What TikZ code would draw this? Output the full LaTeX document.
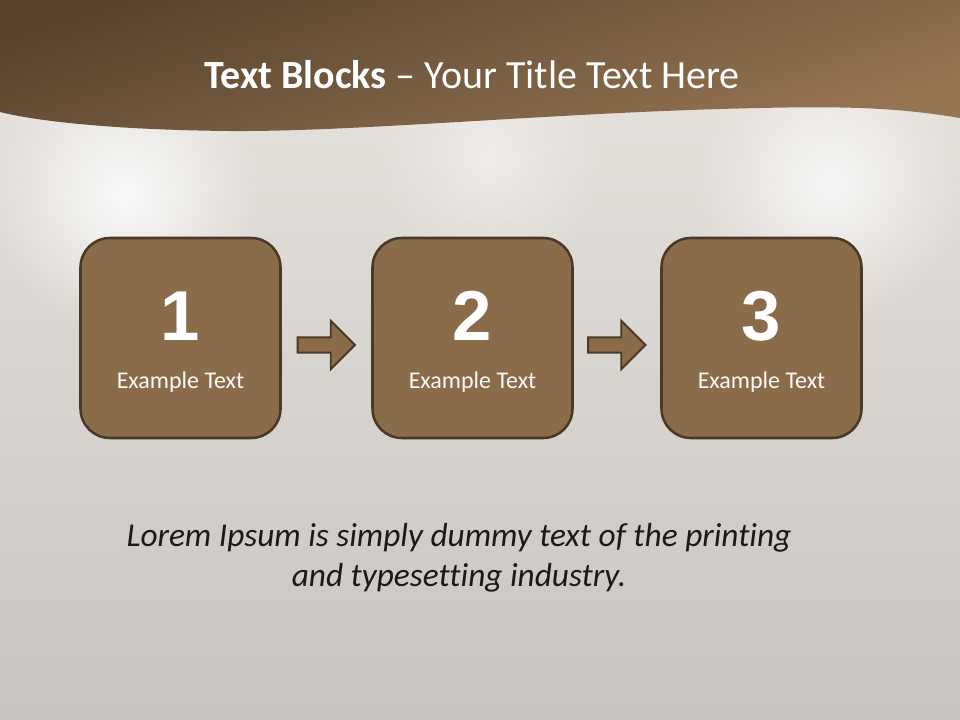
\documentclass[tikz,border=0pt]{standalone}
\usepackage{fontspec}
\setmainfont{Carlito}[Ligatures=NoCommon]
\newfontfamily\numfont{Liberation Sans}
\usetikzlibrary{calc,shapes.arrows,fadings}
\definecolor{bandDark}{RGB}{88,68,46}
\definecolor{bandLight}{RGB}{150,117,82}
\definecolor{bgTop}{RGB}{232,228,222}
\definecolor{bgBottom}{RGB}{200,197,194}
\definecolor{blockFill}{RGB}{138,108,74}
\definecolor{blockLine}{RGB}{74,57,38}
\definecolor{bodyText}{RGB}{28,26,24}
\tikzfading[name=glowfade, inner color=transparent!0, outer color=transparent!100]
\begin{document}
\begin{tikzpicture}[x=0.75pt, y=-0.75pt,
    block/.style={draw=blockLine, line width=1.9pt, fill=blockFill, rounded corners=22pt,
      minimum width=150pt, minimum height=150pt},
    blockarrow/.style={single arrow, draw=blockLine, line width=1.4pt, fill=blockFill,
      minimum height=43pt, single arrow head extend=12.5pt, inner xsep=0pt, inner ysep=5pt},
    numtext/.style={font=\numfont\bfseries\fontsize{53}{53}\selectfont, text=white, inner sep=0pt},
    labeltext/.style={font=\fontsize{18}{21}\selectfont, text=white!96!blockFill}]
  \useasboundingbox (0,0) rectangle (960,720);

  % Background with soft lights
  \shade[top color=bgTop, bottom color=bgBottom] (0,0) rectangle (960,720);
  \fill[white, opacity=0.85, path fading=glowfade] (125,195) circle (105pt);
  \fill[white, opacity=0.75, path fading=glowfade] (830,185) circle (105pt);
  \fill[white, opacity=0.45, path fading=glowfade] (490,160) circle (90pt);

  % Title band with wavy edge
  \shade[top color=bandDark, bottom color=bandLight, shading angle=18]
    (0,0) -- (960,0) -- (960,118)
    .. controls (900,108) and (850,106) .. (760,108)
    .. controls (560,112) and (360,132) .. (230,131)
    .. controls (120,130) and (40,122) .. (0,112) -- cycle;
  \node[text=white, font=\fontsize{30}{36}\selectfont] (title) at (472,75)
    {\textbf{Text Blocks} -- Your Title Text Here};

  % Three blocks
  \node[block] (b1) at (180.5,338) {};
  \node[numtext] (n1) at (180.5,316) {1};
  \node[labeltext] (l1) at (180.5,382) {Example Text};

  \node[block] (b2) at (472.5,338) {};
  \node[numtext] (n2) at (472.5,316) {2};
  \node[labeltext] (l2) at (472.5,382) {Example Text};

  \node[block] (b3) at (761.5,338) {};
  \node[numtext] (n3) at (761.5,316) {3};
  \node[labeltext] (l3) at (761.5,382) {Example Text};

  % Arrows between blocks
  \node[blockarrow] (a1) at ($(b1.east)!0.5!(b2.west)+(-4,7)$) {};
  \node[blockarrow] (a2) at ($(b2.east)!0.5!(b3.west)+(-4,7)$) {};

  % Body text
  \node[text=bodyText, align=center, font=\itshape\fontsize{25}{30}\selectfont] (body) at (459,558)
    {Lorem Ipsum is simply dummy text of the printing\\and typesetting industry.};
\end{tikzpicture}
\end{document}
